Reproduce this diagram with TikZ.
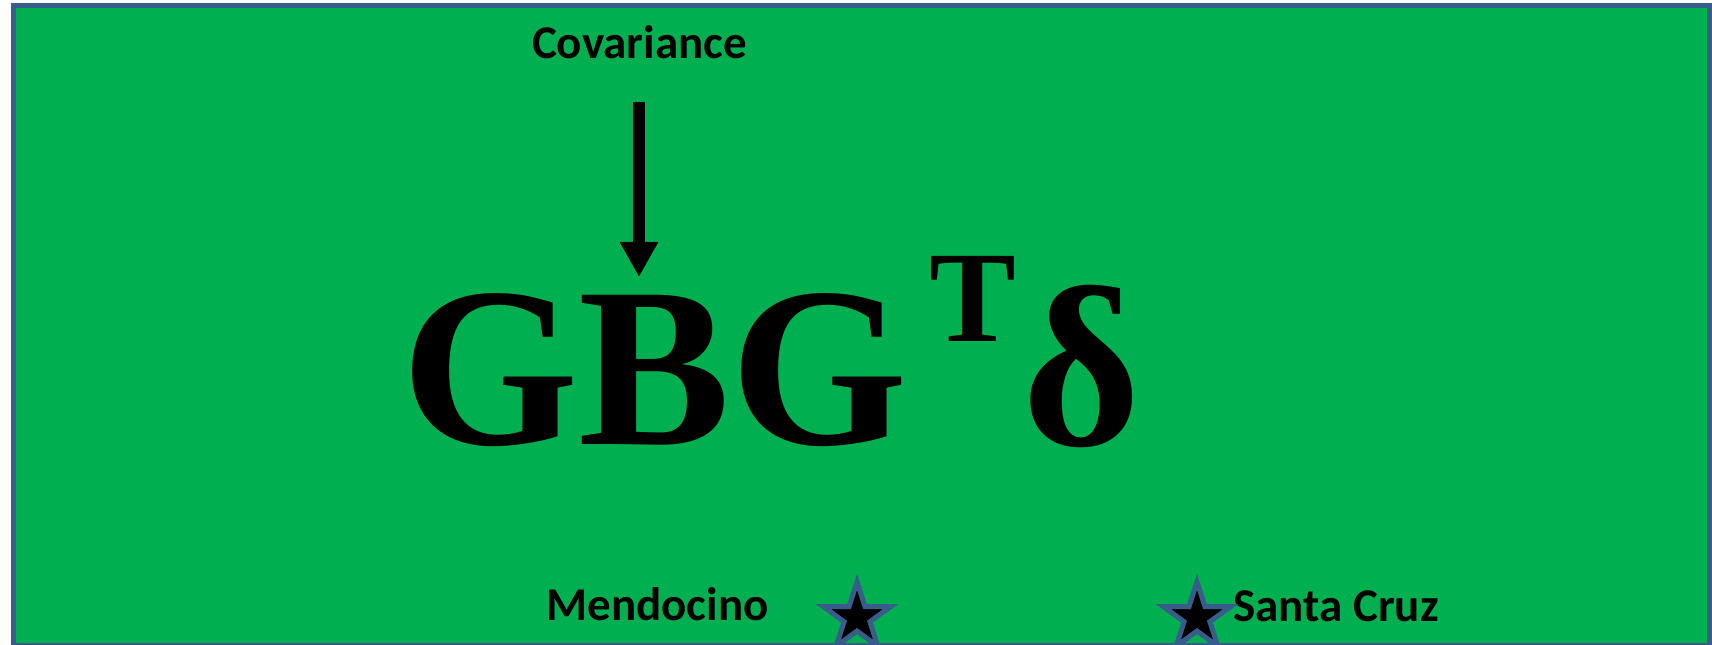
\documentclass[tikz,border=0pt]{standalone}
\usepackage{fontspec}
\setmainfont{Liberation Serif}
\newfontfamily\labelfont{Carlito}
\usetikzlibrary{arrows.meta,shapes.geometric}
\definecolor{panelgreen}{RGB}{0,176,80}
\definecolor{frameblue}{RGB}{56,93,138}
\begin{document}
\begin{tikzpicture}[x=0.5bp,y=-0.5bp,
  label/.style={inner sep=0pt,anchor=base west,
    font=\labelfont\bfseries\fontsize{23.5bp}{28bp}\selectfont},
  bigsym/.style={inner sep=0pt,anchor=base west,
    font=\bfseries\fontsize{114bp}{130bp}\selectfont},
  supsym/.style={inner sep=0pt,anchor=base west,
    font=\bfseries\fontsize{65bp}{75bp}\selectfont},
  sitestar/.style={star,star points=5,star point ratio=2.618,
    minimum size=35.5bp,inner sep=0pt,draw=frameblue,
    fill=black,line width=2.5bp,line join=miter},
  pointer/.style={line width=6bp,-{Triangle[width=18bp,length=17.5bp]}}]
\useasboundingbox (0,0) rectangle (1712,645);
\fill[white] (0,0) rectangle (1712,645);
\begin{scope}
\clip (0,0) rectangle (1712,645);
\draw[frameblue,fill=panelgreen,line width=2.5bp] (13.5,5.5) rectangle (1709.5,645.5);

% formula
\node[bigsym] (gbg) at (401,444) {GBG};
\node[supsym] (tr) at (929,341) {T};
\node[bigsym] (dl) at (1022,444) {δ};

% annotation with pointer
\node[label,anchor=base] (cov) at (639.5,59) {Covariance};
\coordinate (ptop) at (639,102);
\coordinate (ptip) at (639,277);
\draw[pointer] (ptop) -- (ptip);

% sites
\node[label] (men) at (546,620) {Mendocino};
\node[label] (scz) at (1233,621) {Santa Cruz};
\node[sitestar] (s1) at (857,617.5) {};
\node[sitestar] (s2) at (1197,617.5) {};
\end{scope}
\end{tikzpicture}
\end{document}
